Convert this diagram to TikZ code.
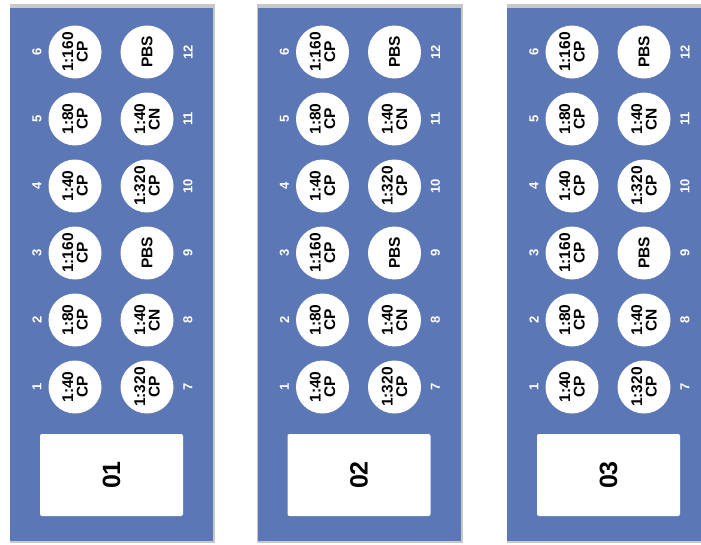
\documentclass[tikz,border=0pt]{standalone}
\usepackage{fontspec}
\setmainfont{Liberation Sans}
\definecolor{stripblue}{RGB}{92,119,182}
\definecolor{stripshade}{RGB}{200,200,200}
\begin{document}
\begin{tikzpicture}[x=1pt,y=-1pt,
  well/.style={circle,fill=white,minimum size=53pt,inner sep=0pt,rotate=90,
    align=center,text=black,font=\bfseries\fontsize{15.5}{14.5}\selectfont},
  wellnum/.style={rotate=90,text=white,inner sep=0pt,
    font=\bfseries\fontsize{13}{13}\selectfont},
  tag/.style={fill=white,rounded corners=2pt,minimum width=143pt,
    minimum height=82pt,inner sep=0pt,font=\bfseries\fontsize{25}{25}\selectfont}]
\useasboundingbox (0,0) rectangle (701,544);
\foreach \s/\xl/\lab in {1/10/01, 2/257.5/02, 3/507/03}{
  % strip with a soft edge
  \fill[stripshade] (\xl-0.5,4) rectangle (\xl+205,543);
  \fill[stripblue] (\xl,7.5) rectangle (\xl+203,541);
  % label box
  \node[tag] (tag\s) at (\xl+101.5,475) {\rotatebox{90}{\lab}};
  % wells: left column 1-6, right column 7-12
  \foreach \r/\a/\b in {1/{1:40\\CP}/{1:320\\CP}, 2/{1:80\\CP}/{1:40\\CN},
                        3/{1:160\\CP}/{PBS}, 4/{1:40\\CP}/{1:320\\CP},
                        5/{1:80\\CP}/{1:40\\CN}, 6/{1:160\\CP}/{PBS}}{
    \pgfmathsetmacro\yy{387-67*(\r-1)}
    \pgfmathtruncatemacro\rr{\r+6}
    \node[well] (w\s-\r) at (\xl+65,\yy) {\a};
    \node[well] (w\s-\rr) at (\xl+137,\yy) {\b};
    \node[wellnum] (n\s-\r) at (\xl+27,\yy) {\r};
    \node[wellnum] (n\s-\rr) at (\xl+178,\yy) {\rr};
  }
}
\end{tikzpicture}
\end{document}
